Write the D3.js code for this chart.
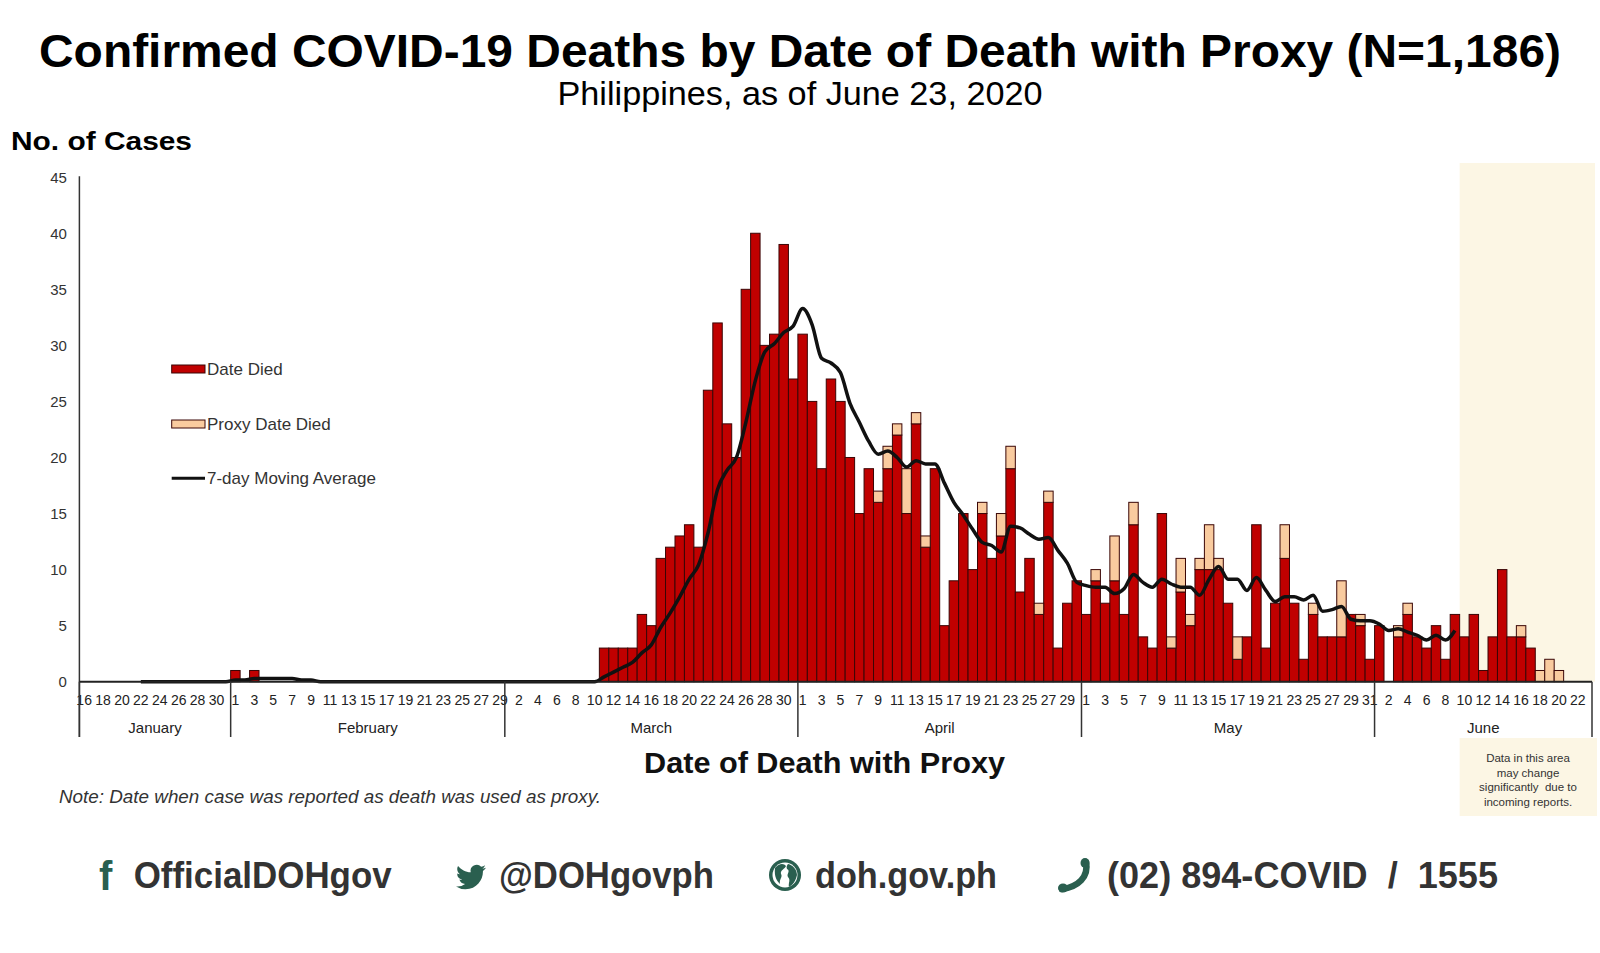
<!DOCTYPE html>
<html><head><meta charset="utf-8">
<script src="https://cdn.jsdelivr.net/npm/d3@7"></script>
<style>
html,body{margin:0;padding:0;background:#fff;}
svg{display:block;font-family:"Liberation Sans",Arial,Helvetica,sans-serif;}
</style></head><body>
<svg id="chart" width="1600" height="953"></svg>
<script>
// ---------------- DATA ----------------
const startDate = "2020-01-16";
const endDate = "2020-06-23";          // last slot on the axis (empty)
const shadeStart = "2020-06-10";       // "data in this area may change"
const maEndDate = "2020-06-09";        // moving-average line stops here
const monthNames = ["January", "February", "March", "April", "May", "June"];
const yTicks = [0, 5, 10, 15, 20, 25, 30, 35, 40, 45];

// Deaths by date died (dark red)
const diedJan = [0,0,0,0,0,0,0,0,0,0,0,0,0,0,0,0];                       // Jan 16-31
const diedFeb = [1,0,1,0,0,0,0,0,0,0,0,0,0,0,0,0,0,0,0,0,0,0,0,0,0,0,0,0,0];
const diedMar = [0,0,0,0,0,0,0,0,0,0,3,3,3,3,6,5,11,12,13,14,12,26,32,23,20,35,40,30,31,39,27];
const diedApr = [31,25,19,27,25,20,15,19,16,19,22,15,23,12,19,5,9,15,10,15,11,13,19,8,11,6,16,3,7,9];
const diedMay = [6,9,7,9,6,14,4,3,15,3,8,5,10,10,10,7,2,4,14,3,7,11,7,2,6,4,4,4,6,5,2];
const diedJun = [5,0,4,6,4,3,5,2,6,4,6,1,4,10,4,4,3,0,0,0,0,0,0];         // Jun 1-23

// Deaths with proxy date died (peach)
const proxyJan = [0,0,0,0,0,0,0,0,0,0,0,0,0,0,0,0];
const proxyFeb = [0,0,0,0,0,0,0,0,0,0,0,0,0,0,0,0,0,0,0,0,0,0,0,0,0,0,0,0,0];
const proxyMar = [0,0,0,0,0,0,0,0,0,0,0,0,0,0,0,0,0,0,0,0,0,0,0,0,0,0,0,0,0,0,0];
const proxyApr = [0,0,0,0,0,0,0,0,1,2,1,4,1,1,0,0,0,0,0,1,0,2,2,0,0,1,1,0,0,0];
const proxyMay = [0,1,0,4,0,2,0,0,0,1,3,1,1,4,1,0,2,0,0,0,0,3,0,0,1,0,0,5,0,1,0];
const proxyJun = [0,0,1,1,0,0,0,0,0,0,0,0,0,0,0,1,0,1,2,1,0,0,0];

const legendLabels = ["Date Died", "Proxy Date Died", "7-day Moving Average"];
const noteLines = ["Data in this area", "may change", "significantly  due to", "incoming reports."];

// ---------------- BUILD ----------------
const parse = d3.utcParse("%Y-%m-%d");
const days = d3.utcDay.range(parse(startDate), d3.utcDay.offset(parse(endDate), 1));
const died = [].concat(diedJan, diedFeb, diedMar, diedApr, diedMay, diedJun);
const proxy = [].concat(proxyJan, proxyFeb, proxyMar, proxyApr, proxyMay, proxyJun);
const rows = days.map((d, i) => ({ d: d, key: +d, died: died[i] || 0, proxy: proxy[i] || 0 }));
// trailing 7-day moving average of all deaths (as in the source chart)
rows.forEach((r, i) => {
  r.ma = i >= 6 ? d3.mean(rows.slice(i - 6, i + 1), t => t.died + t.proxy) : null;
});
const maEnd = +parse(maEndDate);
const maRows = rows.filter(r => r.ma !== null && r.key <= maEnd);

const svg = d3.select("#chart");
const X0 = 79.4, X1 = 1592, Y0 = 681.7, YT = 177.2;
const x = d3.scaleBand().domain(rows.map(r => r.key)).range([X0, X1]).padding(0);
const y = d3.scaleLinear().domain([0, 45]).range([Y0, YT]);
const bw = x.bandwidth();

const RED = "#c00000", PEACH = "#f9cb9f", OUT = "#3a0606", GREEN = "#2a5f4f";

function fit(sel, w) { sel.attr("textLength", w).attr("lengthAdjust", "spacingAndGlyphs"); return sel; }

// shading for recent data
const xs = x(+parse(shadeStart));
svg.append("rect").attr("x", xs).attr("y", 163).attr("width", 1595 - xs).attr("height", Y0 - 163).attr("fill", "#fcf6e4");
svg.append("rect").attr("x", xs).attr("y", 738).attr("width", 1597 - xs).attr("height", 78).attr("fill", "#fcf6e4");
noteLines.forEach((t, i) => {
  svg.append("text").attr("x", 1528).attr("y", 762 + i * 14.5).attr("text-anchor", "middle")
    .attr("font-size", 11.5).attr("fill", "#333").style("white-space", "pre").text(t);
});

// Titles
fit(svg.append("text").attr("x", 800).attr("y", 67).attr("text-anchor", "middle")
  .attr("font-size", 46).attr("font-weight", "bold").attr("fill", "#000")
  .text("Confirmed COVID-19 Deaths by Date of Death with Proxy (N=1,186)"), 1522);
fit(svg.append("text").attr("x", 800).attr("y", 105).attr("text-anchor", "middle")
  .attr("font-size", 33).attr("fill", "#000")
  .text("Philippines, as of June 23, 2020"), 485);
fit(svg.append("text").attr("x", 11).attr("y", 150).attr("font-size", 26).attr("font-weight", "bold")
  .attr("fill", "#000").text("No. of Cases"), 181);

// Bars
const gb = svg.append("g");
gb.selectAll("rect.died").data(rows.filter(r => r.died > 0)).join("rect").attr("class", "died")
  .attr("x", r => x(r.key)).attr("width", bw)
  .attr("y", r => y(r.died)).attr("height", r => y(0) - y(r.died))
  .attr("fill", RED).attr("stroke", OUT).attr("stroke-width", 1);
gb.selectAll("rect.proxy").data(rows.filter(r => r.proxy > 0)).join("rect").attr("class", "proxy")
  .attr("x", r => x(r.key)).attr("width", bw)
  .attr("y", r => y(r.died + r.proxy)).attr("height", r => y(r.died) - y(r.died + r.proxy))
  .attr("fill", PEACH).attr("stroke", OUT).attr("stroke-width", 1);

// Moving average line
svg.append("path").datum(maRows)
  .attr("d", d3.line().x(r => x(r.key) + bw / 2).y(r => y(r.ma)).curve(d3.curveMonotoneX))
  .attr("fill", "none").attr("stroke", "#111").attr("stroke-width", 3.5).attr("stroke-linejoin", "round");

// Y axis
const gy = svg.append("g").attr("transform", `translate(${X0},0)`)
  .call(d3.axisLeft(y).tickValues(yTicks).tickSize(0).tickPadding(12.5));
gy.select(".domain").remove();
gy.selectAll("text").attr("font-size", 15).attr("fill", "#333").attr("font-family", null);
svg.append("line").attr("x1", X0).attr("x2", X0).attr("y1", YT - 1).attr("y2", 737)
  .attr("stroke", "#333").attr("stroke-width", 1.5);

// X axis (day labels)
const tickKeys = rows.filter((r, i) => i % 2 === 0).map(r => r.key);
const gx = svg.append("g").attr("transform", `translate(0,${Y0})`)
  .call(d3.axisBottom(x).tickValues(tickKeys).tickFormat(k => new Date(k).getUTCDate()).tickSize(0).tickPadding(13));
gx.select(".domain").remove();
gx.selectAll("text").attr("font-size", 14).attr("fill", "#222").attr("font-family", null);
svg.append("line").attr("x1", X0).attr("x2", X1).attr("y1", Y0).attr("y2", Y0)
  .attr("stroke", "#222").attr("stroke-width", 2);

// Month separators and labels
const bounds = [X0].concat(rows.filter(r => r.d.getUTCDate() === 1).map(r => x(r.key)), [X1]);
bounds.forEach(b => {
  svg.append("line").attr("x1", b).attr("x2", b).attr("y1", Y0).attr("y2", 737)
    .attr("stroke", "#333").attr("stroke-width", 1.5);
});
monthNames.forEach((m, i) => {
  svg.append("text").attr("x", (bounds[i] + bounds[i + 1]) / 2).attr("y", 733)
    .attr("text-anchor", "middle").attr("font-size", 15).attr("fill", "#222").text(m);
});

// Axis title + note
fit(svg.append("text").attr("x", 824.5).attr("y", 773).attr("text-anchor", "middle")
  .attr("font-size", 29).attr("font-weight", "bold").attr("fill", "#111")
  .text("Date of Death with Proxy"), 361);
fit(svg.append("text").attr("x", 59).attr("y", 803).attr("font-size", 18).attr("font-style", "italic")
  .attr("fill", "#333").text("Note: Date when case was reported as death was used as proxy."), 542);

// Legend
const lg = svg.append("g");
lg.append("rect").attr("x", 171.7).attr("y", 365).attr("width", 33.3).attr("height", 8)
  .attr("fill", RED).attr("stroke", OUT).attr("stroke-width", 1);
lg.append("rect").attr("x", 171.7).attr("y", 420).attr("width", 33.3).attr("height", 8)
  .attr("fill", PEACH).attr("stroke", OUT).attr("stroke-width", 1);
lg.append("line").attr("x1", 171.7).attr("x2", 205).attr("y1", 478.3).attr("y2", 478.3)
  .attr("stroke", "#111").attr("stroke-width", 3);
[375, 430, 484].forEach((yy, i) => {
  lg.append("text").attr("x", 207).attr("y", yy).attr("font-size", 17).attr("fill", "#333").text(legendLabels[i]);
});

// Footer
const fy = 888;
const foot = [
  { t: "OfficialDOHgov", x: 133.7, w: 258 },
  { t: "@DOHgovph", x: 499, w: 215 },
  { t: "doh.gov.ph", x: 815, w: 182 },
  { t: "(02) 894-COVID  /  1555", x: 1107, w: 391 }
];
foot.forEach(f => {
  fit(svg.append("text").attr("x", f.x).attr("y", fy).attr("font-size", 36).attr("font-weight", "bold")
    .attr("fill", "#333").style("white-space", "pre").text(f.t), f.w);
});
// facebook
svg.append("text").attr("x", 99).attr("y", fy + 2).attr("font-size", 40).attr("font-weight", "bold")
  .attr("fill", GREEN).text("f");
// twitter bird
svg.append("path").attr("transform", "translate(456,862) scale(1.25)").attr("fill", GREEN)
  .attr("d", "M23.953 4.57a10 10 0 01-2.825.775 4.958 4.958 0 002.163-2.723c-.951.555-2.005.959-3.127 1.184a4.92 4.92 0 00-8.384 4.482C7.69 8.095 4.067 6.13 1.64 3.162a4.822 4.822 0 00-.666 2.475c0 1.71.87 3.213 2.188 4.096a4.904 4.904 0 01-2.228-.616v.06a4.923 4.923 0 003.946 4.827 4.996 4.996 0 01-2.212.085 4.936 4.936 0 004.604 3.417 9.867 9.867 0 01-6.102 2.105c-.39 0-.779-.023-1.170-.067a13.995 13.995 0 007.557 2.209c9.053 0 13.998-7.496 13.998-13.985 0-.21 0-.42-.015-.63A9.935 9.935 0 0024 4.59z");
// globe
const gg = svg.append("g").attr("transform", "translate(785,875)");
gg.append("circle").attr("r", 16).attr("fill", GREEN);
gg.append("circle").attr("r", 12.5).attr("fill", "#fff");
gg.append("path").attr("fill", GREEN)
  .attr("d", "M-10,-7 C-6,-12 -1,-12 1,-9 C0,-6 -5,-5 -4,-1 C-2,2 -6,4 -5,9 C-8,6 -11,2 -10,-7 Z");
gg.append("path").attr("fill", GREEN)
  .attr("d", "M3,-11 C8,-10 12,-5 12,0 C11,5 8,10 4,12 C3,8 6,5 3,2 C1,-1 6,-4 2,-6 C1,-8 2,-10 3,-11 Z");
// phone
svg.append("path").attr("d", "M1086,862 C1089,877 1078,887 1062,889")
  .attr("fill", "none").attr("stroke", GREEN).attr("stroke-width", 6.5).attr("stroke-linecap", "round");
svg.append("ellipse").attr("cx", 1085).attr("cy", 863).attr("rx", 4.5).attr("ry", 5).attr("fill", GREEN);
svg.append("ellipse").attr("cx", 1063).attr("cy", 888).attr("rx", 5).attr("ry", 4.5).attr("fill", GREEN);
</script>
</body></html>
